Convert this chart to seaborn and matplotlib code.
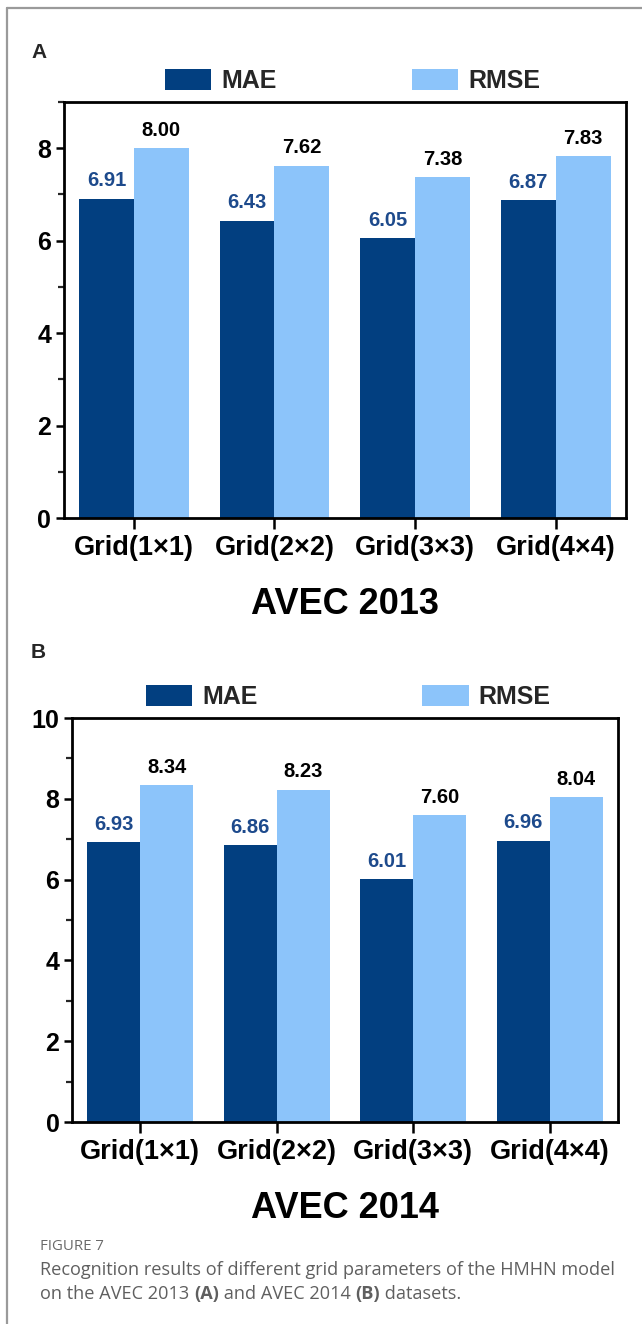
import numpy as np
import pandas as pd
import seaborn as sns
import matplotlib
matplotlib.use("Agg")
import matplotlib.pyplot as plt
from matplotlib.lines import Line2D
from matplotlib.ticker import MultipleLocator

# Data
grids = ["Grid(1×1)", "Grid(2×2)", "Grid(3×3)", "Grid(4×4)"]
metrics = ["MAE", "RMSE"]
mae_2013 = [6.91, 6.43, 6.05, 6.87]
rmse_2013 = [8.00, 7.62, 7.38, 7.83]
mae_2014 = [6.93, 6.86, 6.01, 6.96]
rmse_2014 = [8.34, 8.23, 7.60, 8.04]

MAE_COLOR = "#023f80"
RMSE_COLOR = "#8cc4fa"
MAE_TEXT = "#1d4a8c"

sns.set_theme(style="white")
plt.rcParams["font.family"] = ["Liberation Sans", "DejaVu Sans"]
plt.rcParams["font.weight"] = "bold"

W, H = 642, 1324
fig = plt.figure(figsize=(W / 100, H / 100), dpi=100)


def px_axes(left, top, right, bottom):
    return fig.add_axes([left / W, 1 - bottom / H, (right - left) / W, (bottom - top) / H])


def draw_panel(ax, mae, rmse, ymax, title, leg_x, colspace):
    df = pd.DataFrame({
        "grid": grids * 2,
        "metric": ["MAE"] * len(grids) + ["RMSE"] * len(grids),
        "value": list(mae) + list(rmse),
    })
    sns.barplot(data=df, x="grid", y="value", hue="metric", hue_order=metrics,
                order=grids, palette=[MAE_COLOR, RMSE_COLOR], width=0.78,
                saturation=1, edgecolor="none", linewidth=0, ax=ax, errorbar=None)
    ax.set_xlim(-0.5, 3.5)
    ax.set_ylim(0, ymax)
    ax.yaxis.set_major_locator(MultipleLocator(2))
    ax.yaxis.set_minor_locator(MultipleLocator(1))
    for side in ["left", "right", "top", "bottom"]:
        ax.spines[side].set_visible(True)
        ax.spines[side].set_color("black")
        ax.spines[side].set_linewidth(2.0)
    ax.tick_params(axis="y", which="major", direction="out", length=6, width=1.8,
                   labelsize=18, pad=3, left=True, colors="black")
    ax.tick_params(axis="y", which="minor", direction="out", length=4, width=1.6, left=True)
    ax.tick_params(axis="x", which="major", direction="out", length=8, width=1.8,
                   labelsize=19.5, pad=4, bottom=True, colors="black")
    for lab in ax.get_xticklabels() + ax.get_yticklabels():
        lab.set_fontweight("bold")
    ax.set_ylabel("")
    ax.set_xlabel(title, fontsize=26, fontweight="bold", labelpad=19, color="black")

    ax.bar_label(ax.containers[0], labels=[f"{v:.2f}" for v in mae], padding=6,
                 fontsize=14.5, fontweight="bold", color=MAE_TEXT)
    ax.bar_label(ax.containers[1], labels=[f"{v:.2f}" for v in rmse], padding=6,
                 fontsize=14.5, fontweight="bold", color="black")

    handles, labels = ax.get_legend_handles_labels()
    ax.legend(handles, labels, ncol=2, loc="center",
              bbox_to_anchor=(leg_x, 1 + 21 / (ax.bbox.height)), frameon=False,
              prop={"size": 18, "weight": "bold"}, handlelength=1.85, handleheight=0.9,
              handletextpad=0.4, columnspacing=colspace, borderaxespad=0, borderpad=0)


ax_a = px_axes(63.5, 102, 626, 518)
draw_panel(ax_a, mae_2013, rmse_2013, 9, "AVEC 2013", 0.514, 5.4)

ax_b = px_axes(72, 718, 618, 1122)
draw_panel(ax_b, mae_2014, rmse_2014, 10, "AVEC 2014", 0.506, 6.6)

# Panel letters
fig.text(31 / W, 1 - 52 / H, "A", fontsize=15, fontweight="bold", ha="left", va="center")
fig.text(31 / W, 1 - 652 / H, "B", fontsize=15, fontweight="bold", ha="left", va="center")

# Frame lines on the top and left edges
fig.add_artist(Line2D([7 / W, 1], [1 - 8 / H, 1 - 8 / H], transform=fig.transFigure,
                      color="#9a9a9a", linewidth=1.6))
fig.add_artist(Line2D([7 / W, 7 / W], [0, 1 - 8 / H], transform=fig.transFigure,
                      color="#9a9a9a", linewidth=1.6))

# Caption
cap_font = ["Open Sans", "DejaVu Sans"]
cap_color = "#5f5f5f"
fig.text(40 / W, 1 - 1246 / H, "FIGURE 7", fontsize=10.8, family=cap_font,
         fontweight="normal", color="#6a6a6a", ha="left", va="center")
fig.text(40 / W, 1 - 1270 / H,
         "Recognition results of different grid parameters of the HMHN model",
         fontsize=13.1, family=cap_font, fontweight="normal", color=cap_color,
         ha="left", va="center")

renderer = fig.canvas.get_renderer()
parts = [("on the AVEC 2013 ", "normal"), ("(A)", "bold"), (" and AVEC 2014 ", "normal"),
         ("(B)", "bold"), (" datasets.", "normal")]
x = 40
for txt, wt in parts:
    t = fig.text(x / W, 1 - 1294 / H, txt, fontsize=13.1, family=cap_font,
                 fontweight=wt, color=cap_color, ha="left", va="center")
    bb = t.get_window_extent(renderer=renderer)
    x += bb.width

fig.savefig("out.png", dpi=100, facecolor="white")
